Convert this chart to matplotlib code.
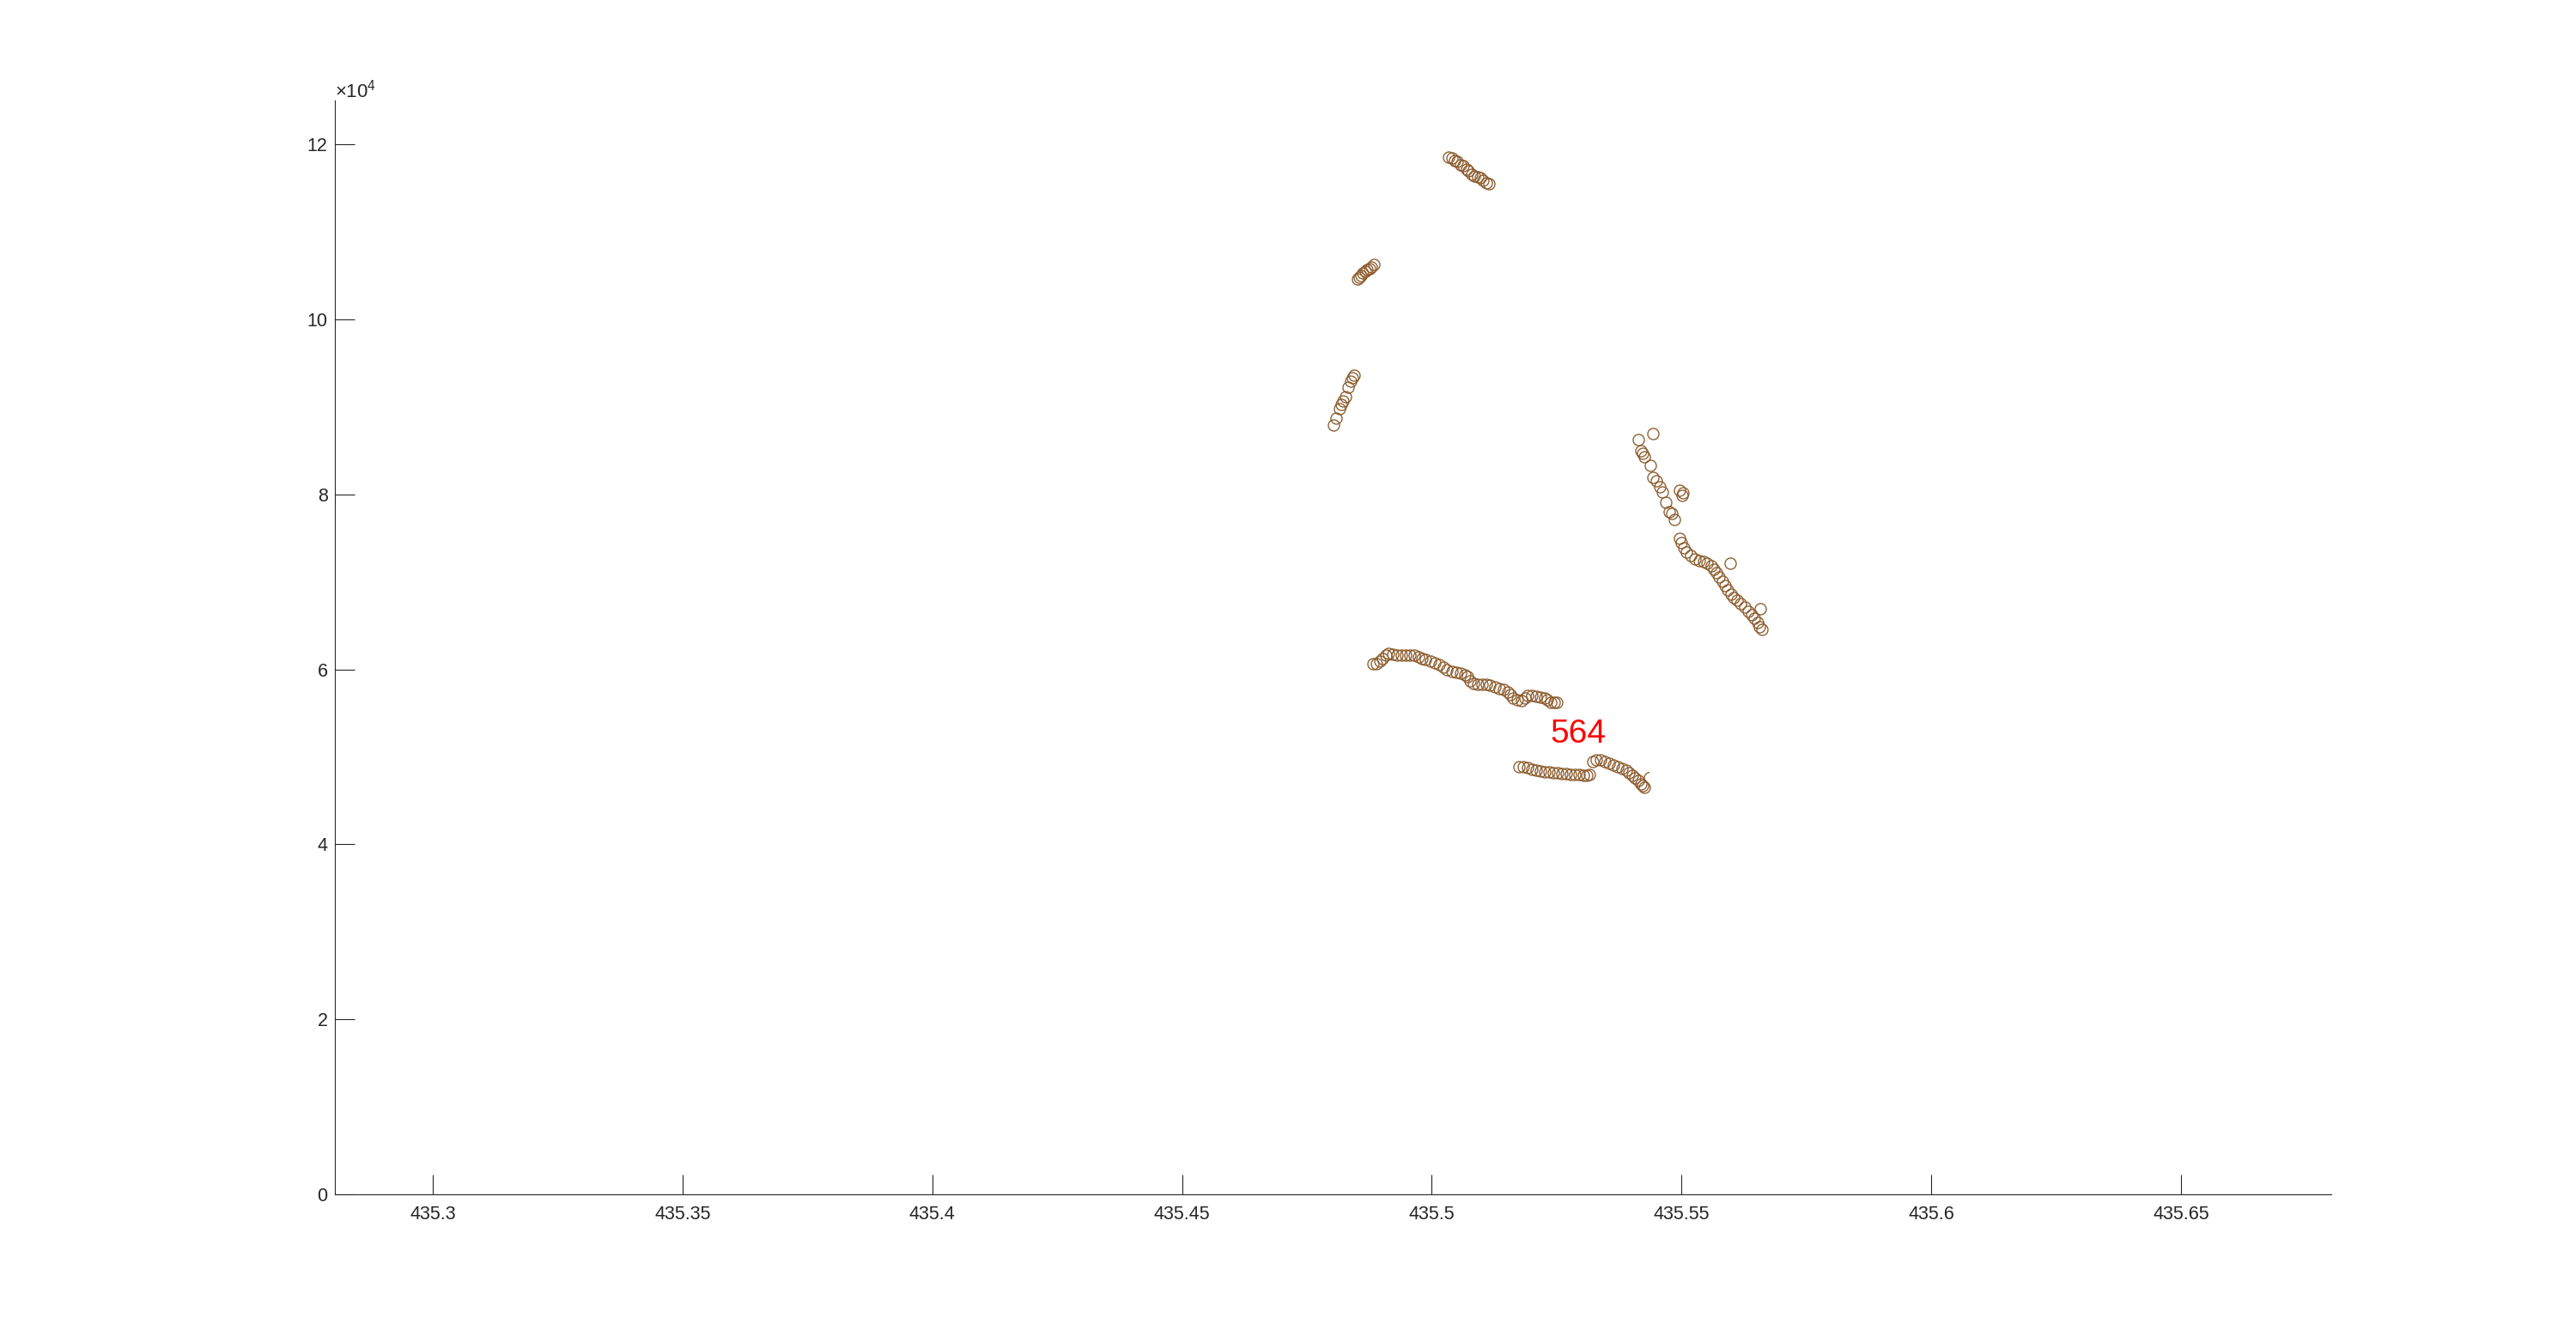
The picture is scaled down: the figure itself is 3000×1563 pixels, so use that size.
import matplotlib
matplotlib.use("Agg")
import matplotlib.pyplot as plt
from matplotlib.ticker import FixedLocator, FixedFormatter
from matplotlib.transforms import offset_copy

plt.rcParams['font.family'] = ['Liberation Sans', 'DejaVu Sans']
plt.rcParams['mathtext.fontset'] = 'custom'
plt.rcParams['mathtext.rm'] = 'Liberation Sans'

# ---- data ----
x_top = [435.5033, 435.5040, 435.5046, 435.5051, 435.5057, 435.5063, 435.5069, 435.5074,
         435.5080, 435.5086, 435.5092, 435.5097, 435.5103, 435.5110, 435.5114]
y_top = [118500, 118425, 118190, 118033, 117700, 117542, 117209, 116953,
         116561, 116394, 116296, 116168, 115903, 115579, 115511]

x_b = [435.4851, 435.4855, 435.4859, 435.4862, 435.4867, 435.4871, 435.4875, 435.4879, 435.4884]
y_b = [104617, 104843, 105039, 105275, 105500, 105667, 105824, 106021, 106256]

x_c = [435.4804, 435.4809, 435.4815, 435.4819, 435.4823, 435.4828, 435.4832, 435.4838, 435.4842, 435.4845]
y_c = [87933, 88689, 89798, 90318, 90652, 91202, 92281, 92939, 93331, 93596]

x_d = [435.5413, 435.5443, 435.5418, 435.5423, 435.5426, 435.5438, 435.5443, 435.5450,
       435.5457, 435.5461, 435.5497, 435.5503, 435.5501, 435.5469, 435.5475, 435.5481, 435.5486,
       435.5496, 435.5500, 435.5504, 435.5510, 435.5519, 435.5527, 435.5536, 435.5544,
       435.5552, 435.5559, 435.5565, 435.5570, 435.5576, 435.5582, 435.5587, 435.5593,
       435.5599, 435.5605, 435.5611, 435.5619, 435.5626, 435.5633, 435.5640, 435.5646,
       435.5652, 435.5656, 435.5661, 435.5598, 435.5658]
y_d = [86236, 86981, 84989, 84666, 84332, 83291, 81947, 81554,
       80838, 80308, 80475, 80180, 79886, 79101, 78051, 77796, 77138,
       75008, 74518, 73870, 73380, 72987, 72653, 72457, 72329,
       72133, 71809, 71416, 71024, 70592, 70102, 69611, 69120,
       68630, 68207, 67884, 67491, 67099, 66667, 66245, 65852,
       65361, 64871, 64547, 72133, 66902]

x_e = [435.4882, 435.4889, 435.4897, 435.4902, 435.4908, 435.4914, 435.4922, 435.4931,
       435.4940, 435.4948, 435.4957, 435.4965, 435.4974, 435.4981, 435.4988, 435.4997,
       435.5006, 435.5014, 435.5023, 435.5031, 435.5040, 435.5049, 435.5057, 435.5066,
       435.5071, 435.5076, 435.5083, 435.5092, 435.5100, 435.5109, 435.5117, 435.5126,
       435.5135, 435.5143, 435.5152, 435.5157, 435.5163, 435.5172, 435.5180, 435.5187,
       435.5192, 435.5200, 435.5209, 435.5218, 435.5226, 435.5232, 435.5238, 435.5245,
       435.5250]
y_e = [60680, 60621, 60945, 61269, 61661, 61858, 61760, 61661,
       61661, 61661, 61661, 61603, 61436, 61269, 61112, 60945,
       60778, 60552, 60287, 59964, 59738, 59640, 59571, 59375,
       59149, 58658, 58393, 58325, 58325, 58266, 58168, 58001,
       57834, 57677, 57412, 57088, 56695, 56529, 56431, 56695,
       57019, 57019, 56951, 56853, 56755, 56529, 56264, 56205,
       56205]

x_f = [435.5175, 435.5183, 435.5192, 435.5200, 435.5209, 435.5218, 435.5226, 435.5235,
       435.5243, 435.5252, 435.5261, 435.5269, 435.5278, 435.5286, 435.5295, 435.5304,
       435.5310, 435.5316, 435.5323, 435.5329, 435.5338, 435.5347, 435.5355, 435.5364,
       435.5372, 435.5381, 435.5390, 435.5395, 435.5401, 435.5407, 435.5413, 435.5418,
       435.5423, 435.5425]
y_f = [48903, 48844, 48746, 48609, 48481, 48383, 48314, 48255,
       48187, 48157, 48118, 48059, 48020, 47990, 47961, 47863,
       47863, 48020, 49492, 49659, 49659, 49433, 49237, 49070,
       48844, 48677, 48452, 48187, 47922, 47598, 47274, 46941,
       46715, 46548]

# small partial arc seen at the right end of the lower chain
arc_x = [435.5437]
arc_y = [47598]

label_text = "564"
label_x = 435.5293
label_y = 51600

x_ticks = [435.3, 435.35, 435.4, 435.45, 435.5, 435.55, 435.6, 435.65]
x_ticklabels = ["435.3", "435.35", "435.4", "435.45", "435.5", "435.55", "435.6", "435.65"]
y_ticks = [0, 20000, 40000, 60000, 80000, 100000, 120000]
y_ticklabels = ["0", "2", "4", "6", "8", "10", "12"]

# ---- drawing ----
fig = plt.figure(figsize=(30, 15.63), dpi=100)
ax = fig.add_axes([0.13, 0.11, 0.775, 0.815])

mcol = '#8a5a2b'
for xs, ys in [(x_top, y_top), (x_b, y_b), (x_c, y_c), (x_d, y_d), (x_e, y_e), (x_f, y_f)]:
    ax.plot(xs, ys, linestyle='none', marker='o', markersize=9.4,
            markerfacecolor='none', markeredgecolor=mcol, markeredgewidth=0.95)

# partial arc (upper-left quarter of a circle marker)
ax.scatter(arc_x, arc_y, s=9.4 ** 2, marker=matplotlib.path.Path.arc(95, 200),
           facecolors='none', edgecolors=mcol, linewidths=0.95)

ax.text(label_x, label_y, label_text, color='#ff0000', fontsize=28,
        ha='center', va='baseline')

ax.set_xlim(435.2804, 435.6801)
ax.set_ylim(0, 125000)

ax.xaxis.set_major_locator(FixedLocator(x_ticks))
ax.xaxis.set_major_formatter(FixedFormatter(x_ticklabels))
ax.yaxis.set_major_locator(FixedLocator(y_ticks))
ax.yaxis.set_major_formatter(FixedFormatter(y_ticklabels))

axcol = '#262626'
for s in ['top', 'right']:
    ax.spines[s].set_visible(False)
for s in ['left', 'bottom']:
    ax.spines[s].set_color(axcol)
    ax.spines[s].set_linewidth(0.8)

ax.tick_params(axis='both', direction='in', length=16.5, width=0.8,
               color=axcol, labelcolor=axcol, labelsize=15.5)
ax.tick_params(axis='x', pad=9)
ax.tick_params(axis='y', pad=6)

tr = offset_copy(ax.transAxes, fig=fig, x=0, y=4, units='dots')
ax.text(0.0, 1.0, r'$\times\mathregular{10^{4}}$', transform=tr,
        fontsize=16, color=axcol, ha='left', va='baseline')

fig.savefig('out.png', dpi=100, facecolor='white')
